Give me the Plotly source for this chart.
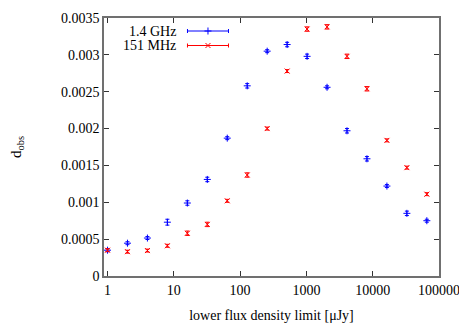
import plotly.graph_objects as go
import numpy as np

# ---- data ----
flux_limits = [1, 2, 4, 8, 16, 32, 64, 128, 256, 512, 1024, 2048, 4096, 8192, 16384, 32768, 65536]
d_1400 = [0.00035, 0.000445, 0.000515, 0.00073, 0.00099, 0.00131, 0.00187, 0.00258, 0.00305, 0.00314,
          0.00298, 0.00256, 0.00197, 0.00159, 0.00122, 0.00085, 0.00075]
err_1400 = [0.00002, 0.00002, 0.00002, 0.00004, 0.00003, 0.00003, 0.00002, 0.00003, 0.00002, 0.00003,
            0.00003, 0.00002, 0.00003, 0.00003, 0.00002, 0.00003, 0.00002]
d_151 = [0.00035, 0.00033, 0.000345, 0.00041, 0.00058, 0.00070, 0.00102, 0.00137, 0.00200, 0.00278,
         0.00335, 0.00338, 0.00298, 0.00254, 0.00184, 0.00147, 0.00111]
err_151 = [0.00002, 0.00002, 0.00002, 0.00002, 0.00003, 0.00003, 0.00002, 0.00003, 0.00002, 0.00002,
           0.00003, 0.00003, 0.00003, 0.00003, 0.00002, 0.00002, 0.00002]

x_tickvals = [1, 10, 100, 1000, 10000, 100000]
x_ticktext = ["1", "10", "100", "1000", "10000", "100000"]
y_tickvals = [0, 0.0005, 0.001, 0.0015, 0.002, 0.0025, 0.003, 0.0035]
y_ticktext = ["0", "0.0005", "0.001", "0.0015", "0.002", "0.0025", "0.003", "0.0035"]
x_minor = [m * 10 ** e for e in range(0, 5) for m in (2, 5, 8)]

series_names = ["1.4 GHz", "151 MHz"]
BLUE = "rgb(0,0,255)"
RED = "rgb(255,0,0)"
FONT = "Liberation Serif, Times New Roman, Times, serif"
FRAME = "#707070"
TICKC = "#333333"
XRANGE = [np.log10(0.885), 5]

fig = go.Figure()

fig.add_trace(go.Scatter(
    x=flux_limits, y=d_1400, mode="markers", name=series_names[0],
    marker=dict(symbol="cross-thin", size=5, line=dict(color=BLUE, width=1), color=BLUE),
    error_y=dict(type="data", array=err_1400, color=BLUE, thickness=1, width=2),
    showlegend=False))
fig.add_trace(go.Scatter(
    x=flux_limits, y=d_151, mode="markers", name=series_names[1],
    marker=dict(symbol="x-thin", size=5, line=dict(color=RED, width=1), color=RED),
    error_y=dict(type="data", array=err_151, color=RED, thickness=1, width=2),
    showlegend=False))

# ---- gnuplot-style key (sample lines drawn on an overlay axis in [0,1]) ----
key_y = [0.9496, 0.8934]
key_x = 0.3104
key_half = 0.0612
for name, col, sym, ky in [(series_names[0], BLUE, "cross-thin", key_y[0]),
                           (series_names[1], RED, "x-thin", key_y[1])]:
    fig.add_trace(go.Scatter(
        x=[key_x], y=[ky], xaxis="x2", yaxis="y2", mode="markers",
        marker=dict(symbol=sym, size=5, line=dict(color=col, width=1), color=col),
        error_x=dict(type="constant", value=key_half, color=col, thickness=1, width=2),
        showlegend=False, hoverinfo="skip"))
    fig.add_annotation(x=0.2209, y=ky, xref="paper", yref="paper", text=name,
                       showarrow=False, xanchor="right", yanchor="middle",
                       font=dict(family=FONT, size=14, color="black"))

axis_common = dict(showgrid=False, zeroline=False, showline=True, linecolor=FRAME, linewidth=1.5,
                   mirror="allticks", ticks="inside", ticklen=5, tickcolor=TICKC, tickwidth=1,
                   automargin=False,
                   tickfont=dict(family=FONT, size=14, color="black"))

minor_axis = dict(type="log", range=XRANGE, overlaying="x", anchor="y", tickmode="array",
                  tickvals=x_minor, ticks="inside", ticklen=3, tickcolor=TICKC, tickwidth=1,
                  showticklabels=False, showgrid=False, zeroline=False, showline=False,
                  fixedrange=True, automargin=False)

# page body has an 8px margin, so the figure is sized/offset to land the plot area where intended
fig.update_layout(
    width=459, height=319,
    margin=dict(l=96, r=28, t=10, b=51, autoexpand=False),
    paper_bgcolor="white", plot_bgcolor="white",
    font=dict(family=FONT, size=14, color="black"),
    xaxis=dict(type="log", range=XRANGE, tickmode="array",
               tickvals=x_tickvals, ticktext=x_ticktext,
               title=dict(text="lower flux density limit [μJy]", standoff=14,
                          font=dict(family=FONT, size=14)),
               **axis_common),
    yaxis=dict(range=[0, 0.0035], tickmode="array", tickvals=y_tickvals, ticktext=y_ticktext,
               title=dict(text="d<sub>obs</sub>", standoff=40, font=dict(family=FONT, size=15)),
               **axis_common),
    xaxis2=dict(range=[0, 1], overlaying="x", visible=False, fixedrange=True),
    yaxis2=dict(range=[0, 1], overlaying="y", visible=False, fixedrange=True),
    xaxis3=dict(side="bottom", **minor_axis),
    xaxis4=dict(side="top", **minor_axis),
)

fig.write_html("out.html")
